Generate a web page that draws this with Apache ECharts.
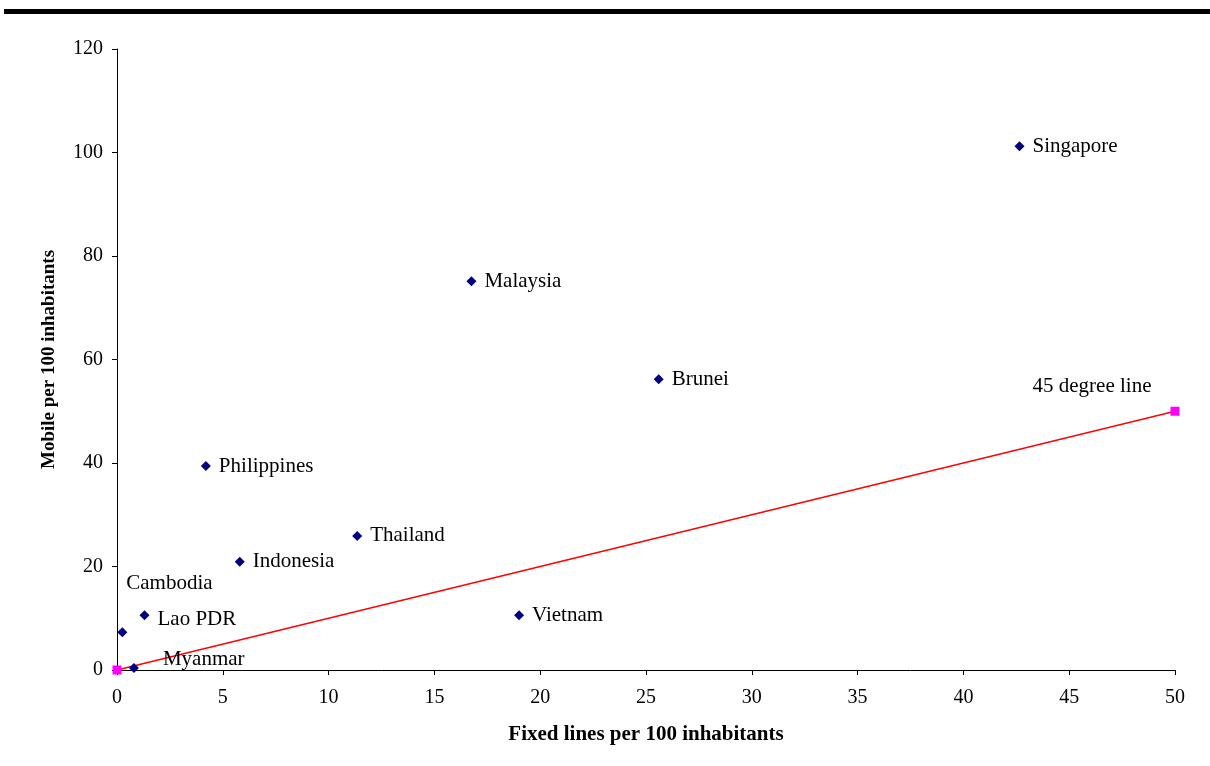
<!DOCTYPE html>
<html>
<head>
<meta charset="utf-8">
<script src="https://cdn.jsdelivr.net/npm/echarts@6/dist/echarts.min.js"></script>
<style>
  html, body { margin: 0; padding: 0; background: #fff; }
  #chart { width: 1210px; height: 766px; }
</style>
</head>
<body>
<div id="chart"></div>
<script>
// Fixed-line vs mobile penetration, per 100 inhabitants
const countries = ['Singapore', 'Malaysia', 'Brunei', 'Philippines', 'Thailand', 'Indonesia', 'Vietnam', 'Lao PDR', 'Cambodia', 'Myanmar'];
const fixedLines = [42.65, 16.75, 25.6, 4.2, 11.35, 5.8, 19.0, 1.3, 0.25, 0.8];
const mobile = [101.2, 75.1, 56.2, 39.4, 25.9, 20.9, 10.6, 10.6, 7.3, 0.4];

// Reference line where mobile equals fixed lines
const lineX = [0, 50];
const lineY = [0, 50];
const lineLabel = '45 degree line';

const xTicks = { min: 0, max: 50, interval: 5 };
const yTicks = { min: 0, max: 120, interval: 20 };

const serif = '"Liberation Serif", "Times New Roman", serif';

// Per-label nudges so the small cluster near the origin stays readable
const labelOffsets = {
  'Cambodia': [-9, -49],
  'Myanmar': [16, -8],
  'Lao PDR': [0, 4]
};

const scatterData = countries.map((name, i) => ({
  name: name,
  value: [fixedLines[i], mobile[i]],
  label: { offset: labelOffsets[name] || [0, 0] }
}));

const lineData = lineX.map((x, i) => {
  const d = { value: [x, lineY[i]] };
  if (i === lineX.length - 1) {
    d.label = {
      show: true,
      formatter: lineLabel,
      position: 'inside',
      offset: [-83, -25],
      color: '#000',
      fontFamily: serif,
      fontSize: 21
    };
  }
  return d;
});

const chart = echarts.init(document.getElementById('chart'), null, { renderer: 'canvas' });
chart.setOption({
  backgroundColor: '#fff',
  animation: false,
  graphic: [{
    type: 'rect',
    shape: { x: 4, y: 9, width: 1206, height: 5 },
    style: { fill: '#000' },
    silent: true
  }],
  grid: { left: 117, right: 35, top: 49, bottom: 96 },
  xAxis: {
    type: 'value',
    min: xTicks.min, max: xTicks.max, interval: xTicks.interval,
    name: 'Fixed lines per 100 inhabitants',
    nameLocation: 'middle',
    nameGap: 54,
    nameTextStyle: { fontFamily: serif, fontSize: 21, fontWeight: 'bold', color: '#000' },
    axisLine: { show: true, lineStyle: { color: '#000', width: 1 } },
    axisTick: { show: true, length: 5, lineStyle: { color: '#000' } },
    axisLabel: { fontFamily: serif, fontSize: 20, color: '#000', margin: 18 },
    splitLine: { show: false }
  },
  yAxis: {
    type: 'value',
    min: yTicks.min, max: yTicks.max, interval: yTicks.interval,
    name: 'Mobile per 100 inhabitants',
    nameLocation: 'middle',
    nameGap: 58,
    nameTextStyle: { fontFamily: serif, fontSize: 19, fontWeight: 'bold', color: '#000' },
    axisLine: { show: true, lineStyle: { color: '#000', width: 1 } },
    axisTick: { show: true, length: 5, lineStyle: { color: '#000' } },
    axisLabel: { fontFamily: serif, fontSize: 20, color: '#000', margin: 14 },
    splitLine: { show: false }
  },
  series: [
    {
      type: 'line',
      data: lineData,
      symbol: 'rect',
      symbolSize: 9,
      itemStyle: { color: '#ff00ff' },
      lineStyle: { color: '#ff0000', width: 1.3 },
      z: 2
    },
    {
      type: 'scatter',
      data: scatterData,
      symbol: 'diamond',
      symbolSize: 10,
      itemStyle: { color: '#000080', opacity: 1 },
      label: {
        show: true,
        position: 'right',
        distance: 8,
        formatter: '{b}',
        fontFamily: serif,
        fontSize: 21,
        color: '#000'
      },
      z: 3
    }
  ]
});
</script>
</body>
</html>
